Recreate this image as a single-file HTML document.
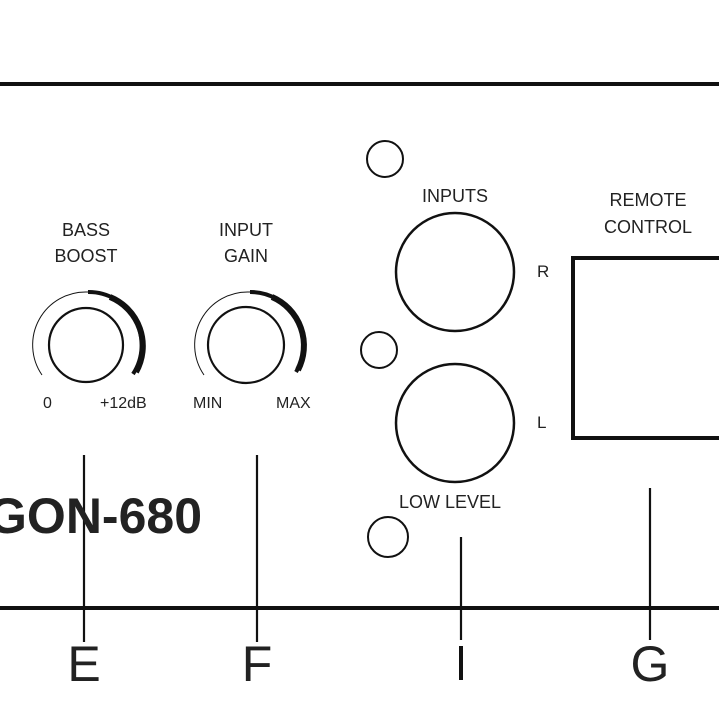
<!DOCTYPE html>
<html><head><style>
html,body{margin:0;padding:0;background:#fff;}
svg{display:block;}
text{font-family:"Liberation Sans",sans-serif;fill:#222;}
</style></head><body>
<svg width="719" height="719" viewBox="0 0 719 719" xmlns="http://www.w3.org/2000/svg">
<rect width="719" height="719" fill="#fff"/>
<g stroke="#111" fill="none">
<line x1="0" y1="84" x2="719" y2="84" stroke-width="4"/>
<line x1="0" y1="608" x2="719" y2="608" stroke-width="4"/>
<!-- knob 1 -->
<circle cx="86" cy="345" r="37" stroke-width="2.2"/>
<path d="M42 375 A53 53 0 0 1 88 292" stroke-width="1"/>
<path d="M88 292 A53 53 0 0 1 133 374" stroke-width="4"/>
<path d="M110 297 A53 53 0 0 1 136 372" stroke-width="6"/>
<!-- knob 2 -->
<circle cx="246" cy="345" r="38" stroke-width="2.2"/>
<path d="M204 375 A53 53 0 0 1 250 292" stroke-width="1"/>
<path d="M250 292 A53 53 0 0 1 296 372" stroke-width="4"/>
<path d="M272 297 A53 53 0 0 1 298 370" stroke-width="6"/>
<!-- inputs -->
<circle cx="455" cy="272" r="59" stroke-width="2.5"/>
<circle cx="455" cy="423" r="59" stroke-width="2.5"/>
<circle cx="385" cy="159" r="18" stroke-width="2"/>
<circle cx="379" cy="350" r="18" stroke-width="2"/>
<circle cx="388" cy="537" r="20" stroke-width="2"/>
<!-- remote box -->
<polyline points="719,258 573,258 573,438 719,438" stroke-width="4"/>
<!-- leaders -->
<line x1="84" y1="455" x2="84" y2="642" stroke-width="2.2"/>
<line x1="257" y1="455" x2="257" y2="642" stroke-width="2.2"/>
<line x1="461" y1="537" x2="461" y2="640" stroke-width="2.2"/>
<line x1="650" y1="488" x2="650" y2="640" stroke-width="2.2"/>
</g>
<g font-size="18" text-anchor="middle">
<text x="86" y="236">BASS</text>
<text x="86" y="262">BOOST</text>
<text x="246" y="236">INPUT</text>
<text x="246" y="262">GAIN</text>
<text x="455" y="202">INPUTS</text>
<text x="648" y="206">REMOTE</text>
<text x="648" y="233">CONTROL</text>
<text x="450" y="508">LOW LEVEL</text>
</g>
<g font-size="16">
<text x="43" y="408">0</text>
<text x="100" y="408">+12dB</text>
<text x="193" y="408">MIN</text>
<text x="276" y="408">MAX</text>
<text x="537" y="277" font-size="17">R</text>
<text x="537" y="428" font-size="17">L</text>
</g>
<text x="202" y="533" font-size="50" font-weight="bold" text-anchor="end" fill="#111">GON-680</text>
<g font-size="50" text-anchor="middle">
<text x="84" y="681">E</text>
<text x="257" y="681">F</text>
<text x="650" y="681">G</text>
</g>
<line x1="461" y1="646" x2="461" y2="680" stroke="#111" stroke-width="4"/>
</svg>
</body></html>
